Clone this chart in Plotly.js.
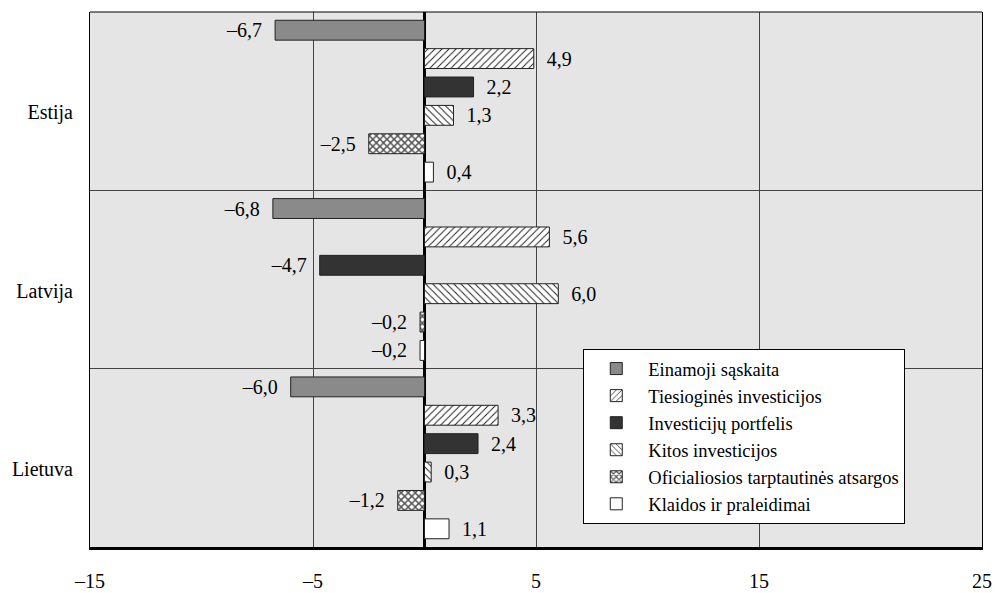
<!DOCTYPE html>
<html>
<head>
<meta charset="utf-8">
<script src="https://cdn.plot.ly/plotly-3.0.1.min.js"></script>
<style>html,body{margin:0;padding:0;background:#fff;}#chart{width:998px;height:593px;}</style>
</head>
<body>
<div id="chart"></div>
<script>
const categories = ["Estija", "Latvija", "Lietuva"];
const seriesNames = ["Einamoji sąskaita", "Tiesioginės investicijos", "Investicijų portfelis", "Kitos investicijos", "Oficialiosios tarptautinės atsargos", "Klaidos ir praleidimai"];
const einamoji = [-6.7, -6.8, -6.0];
const tiesiogines = [4.9, 5.6, 3.3];
const portfelis = [2.2, -4.7, 2.4];
const kitos = [1.3, 6.0, 0.3];
const oficialiosios = [-2.5, -0.2, -1.2];
const klaidos = [0.4, -0.2, 1.1];
const xTicks = [-15, -5, 5, 15, 25];
const xTickLabels = ["–15", "–5", "5", "15", "25"];

const seriesValues = [einamoji, tiesiogines, portfelis, kitos, oficialiosios, klaidos];
const styles = [
  {color: "#8a8a8a", pattern: {shape: ""}},
  {color: "#ffffff", pattern: {shape: "/", fgcolor: "#222", bgcolor: "#fff", size: 5, solidity: 0.2}},
  {color: "#333333", pattern: {shape: ""}},
  {color: "#ffffff", pattern: {shape: "\\", fgcolor: "#222", bgcolor: "#fff", size: 5, solidity: 0.2}},
  {color: "#ffffff", pattern: {shape: "x", fgcolor: "#555", bgcolor: "#fff", size: 5, solidity: 0.5}},
  {color: "#ffffff", pattern: {shape: ""}}
];
const pad = "\u00a0\u00a0";
function fmt(v) {
  const s = (v < 0 ? "–" : "") + Math.abs(v).toFixed(1).replace(".", ",");
  return v < 0 ? s + pad : pad + s;
}
const font = '"Liberation Serif", serif';
const traces = seriesValues.map((vals, i) => ({
  type: "bar",
  orientation: "h",
  name: seriesNames[i],
  y: categories,
  x: vals,
  text: vals.map(fmt),
  textposition: "outside",
  constraintext: "none",
  cliponaxis: false,
  textfont: {family: font, size: 20, color: "#000"},
  marker: {color: styles[i].color, pattern: styles[i].pattern, line: {color: "#222", width: 1}},
  hoverinfo: "skip"
}));

const layout = {
  width: 998, height: 593,
  margin: {l: 90, r: 16, t: 12, b: 46},
  paper_bgcolor: "#ffffff",
  plot_bgcolor: "#e5e5e5",
  barmode: "group",
  bargap: 0.045,
  bargroupgap: 0.3,
  font: {family: font, size: 20, color: "#000"},
  showlegend: true,
  legend: {
    x: 0.553, y: 0.37, xanchor: "left", yanchor: "top",
    bgcolor: "#ffffff", bordercolor: "#000", borderwidth: 1,
    font: {family: font, size: 18.5, color: "#000"},
    traceorder: "normal",
    itemwidth: 54,
    tracegroupgap: 0
  },
  xaxis: {
    range: [-15, 25],
    tickvals: xTicks,
    ticktext: xTickLabels,
    ticks: "outside", ticklen: 14, tickcolor: "rgba(0,0,0,0)",
    showgrid: true, gridcolor: "#444", gridwidth: 1,
    zeroline: true, zerolinecolor: "#000", zerolinewidth: 2.5,
    showline: true, linecolor: "#000", linewidth: 3,
    tickfont: {family: font, size: 20, color: "#000"},
    fixedrange: true
  },
  yaxis: {
    type: "category",
    categoryorder: "array", categoryarray: categories,
    autorange: "reversed",
    tickson: "boundaries",
    ticks: "", showgrid: true, gridcolor: "#444", gridwidth: 1,
    showline: true, linecolor: "#000", linewidth: 1, mirror: true,
    tickfont: {family: font, size: 20, color: "#000"},
    ticklabelstandoff: 12,
    ticklabelshift: -11,
    fixedrange: true
  },
  shapes: [
    {type: "line", xref: "paper", yref: "paper", x0: 0, x1: 1, y0: 1, y1: 1, line: {color: "#000", width: 1}}
  ]
};
Plotly.newPlot("chart", traces, layout, {displayModeBar: false, staticPlot: true});
</script>
</body>
</html>
